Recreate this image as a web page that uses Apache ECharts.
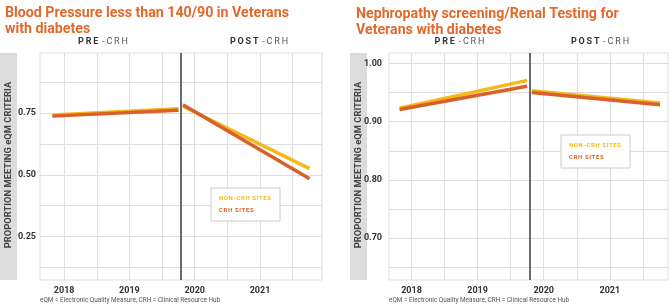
<!DOCTYPE html>
<html>
<head>
<meta charset="utf-8">
<script src="https://cdn.jsdelivr.net/npm/echarts@6/dist/echarts.min.js"></script>
<style>
  html, body { margin: 0; padding: 0; background: #fff; }
  #main { width: 670px; height: 305px; }
</style>
</head>
<body>
<div id="main"></div>
<script>
// x positions of the pre / post segments (fractional years)
var preX = [2017.82, 2019.75];
var postX = [2019.82, 2021.76];
var crhStartX = 2019.79;

// Blood pressure < 140/90
var bpNonCrhPre = [0.742, 0.767];
var bpCrhPre = [0.737, 0.761];
var bpNonCrhPost = [0.777, 0.525];
var bpCrhPost = [0.783, 0.484];

// Nephropathy screening / renal testing
var renalNonCrhPre = [0.923, 0.971];
var renalCrhPre = [0.921, 0.961];
var renalNonCrhPost = [0.953, 0.932];
var renalCrhPost = [0.950, 0.929];

// ticks and gridlines
var yearLabels = [2018, 2019, 2020, 2021];
var yearGrid = [2018, 2018.5, 2019, 2019.5, 2020, 2020.5, 2021, 2021.5];
var bpLabels = [0.25, 0.5, 0.75];
var bpGrid = [0.125, 0.25, 0.375, 0.5, 0.625, 0.75, 0.875];
var renalLabels = [0.7, 0.8, 0.9, 1.0];
var renalGrid = [0.65, 0.7, 0.75, 0.8, 0.85, 0.9, 0.95, 1.0];

var seriesNames = ["NON-CRH SITES", "CRH SITES"];
var titles = ["Blood Pressure less than 140/90 in Veterans\nwith diabetes", "Nephropathy screening/Renal Testing for\nVeterans with diabetes"];
var yName = "PROPORTION MEETING eQM CRITERIA";
var footnote = "eQM = Electronic Quality Measure, CRH = Clinical Resource Hub";

var yellow = "#F6B81A";
var orange = "#D8612A";
var titleColor = "#E2692B";
var gridColor = "#dedede";
var fontFam = "Roboto, 'Noto Sans', sans-serif";

var chart = echarts.init(document.getElementById("main"), null, { renderer: "canvas" });

function pairs(xs, ys) {
    var out = [];
    for (var i = 0; i < xs.length; i++) out.push([xs[i], ys[i]]);
    return out;
}
function spaced(s, sep) {
    return s.split("").join(sep || "\u2009");
}
function lineSeries(name, idx, xs, ys, color) {
    return {
        name: name,
        type: "line",
        xAxisIndex: idx,
        yAxisIndex: idx,
        data: pairs(xs, ys),
        symbol: "none",
        silent: true,
        lineStyle: { color: color, width: 3.5, cap: "butt" },
        itemStyle: { color: color }
    };
}
function axisFor(idx, min, max, grid, labels, fmt, margin) {
    return {
        type: "value",
        gridIndex: idx,
        min: min,
        max: max,
        axisLine: { show: false },
        axisTick: { show: false, customValues: grid },
        splitLine: { show: true, lineStyle: { color: gridColor, width: 1 } },
        axisLabel: {
            customValues: labels,
            color: "#333",
            fontWeight: "bold",
            fontSize: 9,
            fontFamily: fontFam,
            margin: margin,
            formatter: fmt
        }
    };
}
// PRE-CRH / POST-CRH headings, centred on x
function header(x, bold, rest) {
    return {
        type: "text",
        x: x,
        y: 42,
        style: {
            text: "{b|" + spaced(bold) + "}{r|" + spaced("\u2009" + rest) + "}",
            align: "center",
            verticalAlign: "middle",
            rich: {
                b: { fontSize: 9, fontWeight: "bold", fill: "#333", fontFamily: fontFam },
                r: { fontSize: 9, fill: "#555", fontFamily: fontFam }
            }
        }
    };
}
function legendFor(left, top) {
    return {
        orient: "vertical",
        left: left,
        top: top,
        icon: "none",
        itemWidth: 0,
        itemHeight: 6,
        itemGap: 5,
        selectedMode: false,
        backgroundColor: "#fff",
        borderColor: "#ccc",
        borderWidth: 1,
        padding: [7, 9, 7, 3],
        formatter: function (name) { return spaced(name, "\u200A"); },
        textStyle: { fontSize: 6, fontWeight: "bold", fontFamily: fontFam, lineHeight: 7 },
        data: [
            { name: seriesNames[0], textStyle: { color: yellow } },
            { name: seriesNames[1], textStyle: { color: orange } }
        ]
    };
}
function crhLine(idx) {
    return {
        type: "line",
        xAxisIndex: idx,
        yAxisIndex: idx,
        data: [],
        silent: true,
        markLine: {
            silent: true,
            symbol: ["none", "none"],
            label: { show: false },
            lineStyle: { color: "#6b6b6b", width: 2, type: "solid" },
            data: [{ xAxis: crhStartX }]
        }
    };
}
function yNameText(x) {
    return {
        type: "text", x: x, y: 165, rotation: Math.PI / 2,
        style: { text: yName, fontSize: 9.4, fontWeight: "bold", fill: "#444", fontFamily: fontFam, align: "center", verticalAlign: "middle" }
    };
}
function footText(x) {
    return { type: "text", left: x, top: 297, style: { text: footnote, fontSize: 6.4, fill: "#555", fontFamily: fontFam } };
}
var yearFmt = function (v) { return String(Math.round(v)); };
var valFmt = function (v) { return v.toFixed(2); };

var option = {
    animation: false,
    title: [
        { text: titles[0], left: 0, top: 0, textStyle: { color: titleColor, fontSize: 14.2, fontWeight: "bold", fontFamily: fontFam, lineHeight: 16 } },
        { text: titles[1], left: 351, top: 1, textStyle: { color: titleColor, fontSize: 14.2, fontWeight: "bold", fontFamily: fontFam, lineHeight: 16 } }
    ],
    legend: [legendFor(211, 188), legendFor(561, 135)],
    grid: [
        { left: 40, right: 348, top: 53, bottom: 25, show: true, borderColor: gridColor, borderWidth: 1 },
        { left: 389, right: 2, top: 53, bottom: 25, show: true, borderColor: gridColor, borderWidth: 1 }
    ],
    xAxis: [
        axisFor(0, 2017.63, 2021.95, yearGrid, yearLabels, yearFmt, 6),
        axisFor(1, 2017.66, 2021.88, yearGrid, yearLabels, yearFmt, 6)
    ],
    yAxis: [
        axisFor(0, 0.075, 0.992, bpGrid, bpLabels, valFmt, 4),
        axisFor(1, 0.628, 1.018, renalGrid, renalLabels, valFmt, 7)
    ],
    graphic: [
        { type: "rect", shape: { x: 0, y: 53, width: 17, height: 227 }, style: { fill: "#dcdcdc" }, silent: true },
        { type: "rect", shape: { x: 350, y: 53, width: 17, height: 227 }, style: { fill: "#dcdcdc" }, silent: true },
        yNameText(8.5),
        yNameText(358.5),
        header(103, "PRE", "-CRH"),
        header(259, "POST", "-CRH"),
        header(459.5, "PRE", "-CRH"),
        header(600, "POST", "-CRH"),
        footText(40),
        footText(389)
    ],
    series: [
        crhLine(0),
        crhLine(1),
        lineSeries(seriesNames[0], 0, preX, bpNonCrhPre, yellow),
        lineSeries(seriesNames[0], 0, postX, bpNonCrhPost, yellow),
        lineSeries(seriesNames[1], 0, preX, bpCrhPre, orange),
        lineSeries(seriesNames[1], 0, postX, bpCrhPost, orange),
        lineSeries(seriesNames[0], 1, preX, renalNonCrhPre, yellow),
        lineSeries(seriesNames[0], 1, postX, renalNonCrhPost, yellow),
        lineSeries(seriesNames[1], 1, preX, renalCrhPre, orange),
        lineSeries(seriesNames[1], 1, postX, renalCrhPost, orange)
    ]
};
chart.setOption(option);
</script>
</body>
</html>
